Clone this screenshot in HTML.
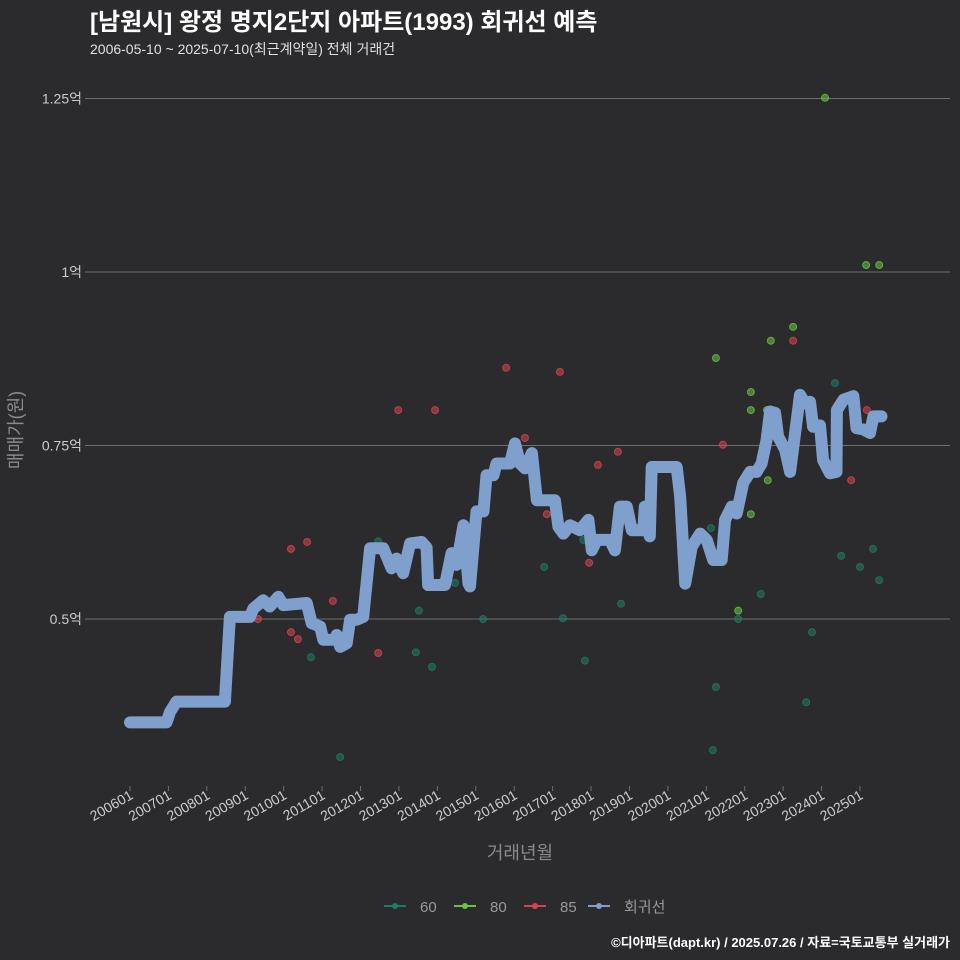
<!DOCTYPE html>
<html><head><meta charset="utf-8"><style>
body{margin:0;background:#2b2a2c;}
svg{display:block;font-family:"Liberation Sans","Noto Sans CJK KR",sans-serif;}
</style></head><body>
<svg id="chart" width="960" height="960">
<rect width="960" height="960" fill="#2b2a2c"/>
<text x="90" y="30" font-size="24" font-weight="bold" fill="#ffffff">[남원시] 왕정 명지2단지 아파트(1993) 회귀선 예측</text>
<text x="90" y="54" font-size="14" fill="#e0e0e0">2006-05-10 ~ 2025-07-10(최근계약일) 전체 거래건</text>
<g id="grid"></g><g id="pts"></g><g id="line"></g><g id="axes"></g>
<text x="520" y="859" font-size="18" fill="#8a8a8a" text-anchor="middle">거래년월</text>
<text transform="translate(22,430) rotate(-90)" font-size="18" fill="#8a8a8a" text-anchor="middle">매매가(원)</text>
<g id="legend"></g>
<text x="950" y="947" font-size="13" font-weight="bold" fill="#ffffff" text-anchor="end">©디아파트(dapt.kr) / 2025.07.26 / 자료=국토교통부 실거래가</text>
</svg>
<script>
const yTicks=[0.5,0.75,1,1.25];
const yTickLabels=["0.5억","0.75억","1억","1.25억"];
const xTickYears=[2006,2007,2008,2009,2010,2011,2012,2013,2014,2015,2016,2017,2018,2019,2020,2021,2022,2023,2024,2025];
const xTickLabels=["200601","200701","200801","200901","201001","201101","201201","201301","201401","201501","201601","201701","201801","201901","202001","202101","202201","202301","202401","202501"];
const lineT=[2006.0,2006.95,2007.04,2007.21,2008.47,2008.6,2009.12,2009.21,2009.47,2009.64,2009.86,2009.99,2010.6,2010.73,2010.95,2011.03,2011.34,2011.38,2011.47,2011.64,2011.73,2011.9,2012.07,2012.25,2012.59,2012.81,2012.94,2013.11,2013.29,2013.59,2013.72,2013.76,2014.2,2014.37,2014.5,2014.68,2014.81,2014.85,2015.02,2015.2,2015.28,2015.46,2015.54,2015.89,2016.02,2016.15,2016.28,2016.46,2016.59,2017.06,2017.15,2017.28,2017.45,2017.71,2017.93,2018.02,2018.15,2018.49,2018.62,2018.75,2018.93,2019.06,2019.36,2019.4,2019.53,2019.58,2020.23,2020.32,2020.45,2020.62,2020.84,2021.01,2021.18,2021.4,2021.49,2021.66,2021.79,2021.96,2022.14,2022.31,2022.44,2022.57,2022.66,2022.79,2022.87,2023.05,2023.18,2023.31,2023.44,2023.57,2023.7,2023.78,2023.96,2024.04,2024.22,2024.39,2024.4,2024.57,2024.83,2024.91,2025.09,2025.26,2025.35,2025.56];
const lineV=[0.351,0.351,0.366,0.381,0.381,0.503,0.503,0.515,0.527,0.518,0.532,0.52,0.523,0.494,0.489,0.47,0.47,0.477,0.46,0.465,0.499,0.499,0.503,0.602,0.602,0.573,0.587,0.566,0.609,0.611,0.603,0.549,0.549,0.595,0.578,0.635,0.551,0.547,0.655,0.655,0.707,0.707,0.724,0.724,0.753,0.724,0.717,0.739,0.671,0.671,0.633,0.623,0.635,0.628,0.643,0.599,0.614,0.614,0.599,0.662,0.662,0.628,0.628,0.662,0.619,0.719,0.719,0.676,0.551,0.604,0.623,0.614,0.585,0.585,0.643,0.662,0.652,0.696,0.712,0.712,0.724,0.758,0.799,0.797,0.763,0.744,0.712,0.768,0.823,0.811,0.813,0.777,0.779,0.729,0.71,0.712,0.801,0.816,0.821,0.775,0.773,0.768,0.792,0.792];
const redT=[2009.33,2010.19,2010.61,2010.19,2010.37,2011.28,2012.46,2012.98,2013.94,2015.79,2016.28,2017.19,2016.85,2017.95,2018.18,2018.7,2021.43,2023.26,2024.77,2025.18];
const redV=[0.5,0.601,0.611,0.481,0.471,0.526,0.451,0.801,0.801,0.862,0.761,0.856,0.651,0.581,0.722,0.741,0.751,0.901,0.7,0.801];
const greenT=[2022.16,2022.16,2022.16,2021.83,2022.58,2022.6,2022.68,2023.26,2024.09,2025.16,2025.5,2021.25];
const greenV=[0.827,0.801,0.651,0.512,0.801,0.7,0.901,0.921,1.251,1.01,1.01,0.876];
const tealT=[2010.71,2011.47,2012.46,2013.44,2013.52,2013.86,2014.46,2015.19,2017.27,2016.78,2017.8,2018.78,2017.84,2021.17,2021.25,2021.12,2021.83,2022.42,2024.35,2024.51,2025.0,2025.34,2025.5,2023.75,2023.6];
const tealV=[0.445,0.301,0.612,0.452,0.512,0.431,0.552,0.5,0.501,0.575,0.614,0.522,0.44,0.311,0.402,0.631,0.5,0.536,0.84,0.591,0.575,0.601,0.556,0.481,0.38];
const NS="http://www.w3.org/2000/svg";
function X(t){return 130+(t-2006)*38.42;}
function Y(v){return 619-(v-0.5)*694;}
function mk(tag,attrs,parent){const e=document.createElementNS(NS,tag);for(const k in attrs)e.setAttribute(k,attrs[k]);parent.appendChild(e);return e;}
const grid=document.getElementById('grid'),axes=document.getElementById('axes');
yTicks.forEach((v,i)=>{
 const l=mk('line',{x1:90,x2:950,y1:Y(v),y2:Y(v),stroke:'#6e6e6e','stroke-width':1},grid);
 
 
 mk('line',{x1:85,x2:90,y1:Y(v),y2:Y(v),stroke:'#6e6e6e'},axes);
 const t=mk('text',{x:82,y:Y(v)+5,'font-size':14,fill:'#cccccc','text-anchor':'end'},axes);
 t.textContent=yTickLabels[i];
 
 
});
xTickYears.forEach((yr,i)=>{
 const x=X(yr);
 mk('line',{x1:x,x2:x,y1:786,y2:791,stroke:'#6e6e6e'},axes);
 const t=mk('text',{transform:`translate(${x+4},${798}) rotate(-30)`,'font-size':14,fill:'#cccccc','text-anchor':'end'},axes);
 t.textContent=xTickLabels[i];
 
 
});
const pts=document.getElementById('pts');
function scatter(T,V,color,name){T.forEach((t,i)=>{
 const c=mk('circle',{cx:X(t),cy:Y(V[i]),r:3.5,fill:color,'fill-opacity':0.55,stroke:color,'stroke-opacity':0.8},pts);
 
 
});}
scatter(tealT,tealV,'#1f7a66','point-60');
scatter(greenT,greenV,'#6cc24a','point-80');
scatter(redT,redV,'#d6454e','point-85');
const d=lineT.map((t,i)=>(i?'L':'M')+X(t).toFixed(1)+','+Y(lineV[i]).toFixed(1)).join(' ');
const p=mk('path',{d:d,fill:'none',stroke:'#7f9fcc','stroke-width':12,'stroke-linejoin':'round','stroke-linecap':'round'},document.getElementById('line'));


const leg=document.getElementById('legend');
const items=[['60','#1f7a66'],['80','#6cc24a'],['85','#d6454e'],['회귀선','#7f9fcc']];
const lx=[384,454,524,588];
items.forEach((it,i)=>{
 const g=mk('g',{},leg);
 
 
 mk('line',{x1:lx[i],x2:lx[i]+22,y1:906,y2:906,stroke:it[1],'stroke-width':2},g);
 mk('circle',{cx:lx[i]+11,cy:906,r:3,fill:it[1]},g);
 const t=mk('text',{x:lx[i]+36,y:912,'font-size':15,fill:'#9a9a9a'},g);
 t.textContent=it[0];
});
</script>
</body></html>
